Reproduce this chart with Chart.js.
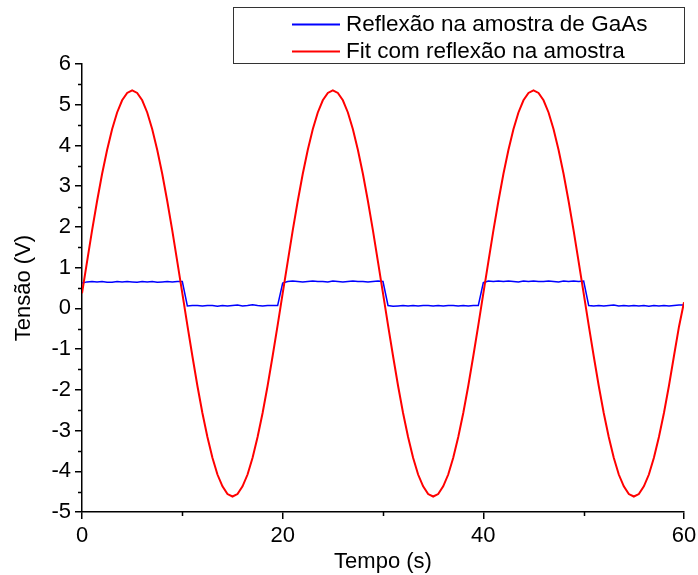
<!DOCTYPE html>
<html><head><meta charset="utf-8">
<script src="https://cdn.jsdelivr.net/npm/chart.js@4"></script>
<style>html,body{margin:0;padding:0;background:#fff}</style>
</head><body>
<canvas id="c" width="698" height="575"></canvas>
<script>
// ---- data ----
const seriesNames = ['Reflexão na amostra de GaAs', 'Fit com reflexão na amostra'];
const xTickLabels = [0, 20, 40, 60];
const yTickLabels = [-5, -4, -3, -2, -1, 0, 1, 2, 3, 4, 5, 6];

// Fit curve, sampled every 0.5 s from 0 to 60 s
const fitStep = 0.5;
const fitVolt = [
  0.37,1.14,1.91,2.63,3.30,3.89,4.40,4.81,5.11,5.29,5.35,5.29,5.11,4.81,4.40,3.89,3.30,2.63,1.91,1.14,
  0.37,-0.41,-1.17,-1.90,-2.57,-3.16,-3.67,-4.08,-4.37,-4.56,-4.62,-4.56,-4.37,-4.08,-3.67,-3.16,-2.57,-1.90,-1.17,-0.41,
  0.37,1.14,1.91,2.63,3.30,3.89,4.40,4.81,5.11,5.29,5.35,5.29,5.11,4.81,4.40,3.89,3.30,2.63,1.91,1.14,
  0.37,-0.41,-1.17,-1.90,-2.57,-3.16,-3.67,-4.08,-4.37,-4.56,-4.62,-4.56,-4.37,-4.08,-3.67,-3.16,-2.57,-1.90,-1.17,-0.41,
  0.37,1.14,1.91,2.63,3.30,3.89,4.40,4.81,5.11,5.29,5.35,5.29,5.11,4.81,4.40,3.89,3.30,2.63,1.91,1.14,
  0.37,-0.41,-1.17,-1.90,-2.57,-3.16,-3.67,-4.08,-4.37,-4.56,-4.62,-4.56,-4.37,-4.08,-3.67,-3.16,-2.57,-1.90,-1.17,-0.45,
  0.15
];

// Measured reflection signal, sampled every 0.5 s from 0 to 60 s
const measStep = 0.5;
const measVolt = [
  0.62,0.65,0.66,0.65,0.66,0.64,0.64,0.66,0.65,0.66,0.65,0.64,0.66,0.65,0.66,0.64,0.65,0.66,0.65,0.66,0.66,
  0.06,0.07,0.07,0.06,0.07,0.07,0.05,0.07,0.06,0.07,0.08,0.06,0.07,0.09,0.07,0.06,0.07,0.07,0.07,
  0.62,0.66,0.67,0.66,0.65,0.66,0.67,0.66,0.66,0.65,0.67,0.66,0.65,0.66,0.67,0.66,0.66,0.65,0.66,0.67,0.66,
  0.07,0.05,0.06,0.07,0.06,0.07,0.06,0.07,0.07,0.06,0.07,0.06,0.07,0.07,0.06,0.07,0.06,0.07,0.07,
  0.63,0.67,0.66,0.67,0.66,0.67,0.66,0.65,0.67,0.66,0.67,0.66,0.66,0.67,0.66,0.65,0.67,0.66,0.67,0.66,0.67,
  0.07,0.06,0.07,0.06,0.07,0.08,0.06,0.07,0.06,0.07,0.06,0.07,0.05,0.07,0.06,0.07,0.06,0.07,0.08,0.08
];
const seriesColors = ['#0000ff', '#ff0000'];

const measPts = measVolt.map((v, i) => ({x: i * measStep, y: v}));
const fitPts = fitVolt.map((v, i) => ({x: i * fitStep, y: v}));

const FONT = 'Liberation Sans, Arial, sans-serif';

const minorTicks = {
  id: 'minorTicks',
  afterDraw(chart) {
    const {ctx, scales: {x, y}, chartArea} = chart;
    ctx.save();
    ctx.strokeStyle = '#000';
    ctx.lineWidth = 1.5;
    ctx.beginPath();
    for (let i = 0; i < yTickLabels.length - 1; i++) {
      const py = Math.round(y.getPixelForValue(yTickLabels[i] + 0.5)) + 0.5;
      ctx.moveTo(chartArea.left, py);
      ctx.lineTo(chartArea.left - 4, py);
    }
    for (let i = 0; i < xTickLabels.length - 1; i++) {
      const px = Math.round(x.getPixelForValue((xTickLabels[i] + xTickLabels[i + 1]) / 2)) + 0.5;
      ctx.moveTo(px, chartArea.bottom);
      ctx.lineTo(px, chartArea.bottom + 4);
    }
    ctx.stroke();
    ctx.restore();
  }
};

const boxLegend = {
  id: 'boxLegend',
  afterDraw(chart) {
    const ctx = chart.ctx;
    ctx.save();
    ctx.strokeStyle = '#333';
    ctx.lineWidth = 1;
    ctx.strokeRect(233.5, 7.5, 451, 56);
    ctx.font = '22.5px ' + FONT;
    ctx.textBaseline = 'middle';
    ctx.fillStyle = '#000';
    const rows = [24, 51];
    seriesNames.forEach((name, i) => {
      ctx.strokeStyle = seriesColors[i];
      ctx.lineWidth = 2;
      ctx.beginPath();
      ctx.moveTo(292, rows[i] + 0.5);
      ctx.lineTo(340, rows[i] + 0.5);
      ctx.stroke();
      ctx.fillText(name, 346, rows[i] + 1);
    });
    ctx.restore();
  }
};

new Chart(document.getElementById('c'), {
  type: 'line',
  data: {
    datasets: [
      {label: seriesNames[0], data: measPts, borderColor: seriesColors[0], borderWidth: 1.5,
       pointRadius: 0, tension: 0, order: 1},
      {label: seriesNames[1], data: fitPts, borderColor: seriesColors[1], borderWidth: 2,
       pointRadius: 0, tension: 0, order: 0}
    ]
  },
  options: {
    responsive: false,
    animation: false,
    events: [],
    layout: {padding: {left: 0, right: 0, top: 64, bottom: 0}},
    plugins: {legend: {display: false}, tooltip: {enabled: false}},
    scales: {
      x: {
        type: 'linear', min: 0, max: 60,
        afterFit: s => { s.height = 63; s.paddingRight = 14; s.paddingLeft = 0; },
        afterBuildTicks: s => { s.ticks = xTickLabels.map(v => ({value: v})); },
        border: {display: true, color: '#000', width: 1.5},
        grid: {display: true, drawOnChartArea: false, drawTicks: true, tickLength: 7, color: '#000', lineWidth: 1.5},
        ticks: {color: '#000', font: {family: FONT, size: 22}, padding: 4, maxRotation: 0},
        title: {display: true, text: 'Tempo (s)', color: '#000', font: {family: FONT, size: 22}, padding: {top: 0, bottom: 0}}
      },
      y: {
        type: 'linear', min: -5, max: 6,
        afterFit: s => { s.width = 82; },
        afterBuildTicks: s => { s.ticks = yTickLabels.map(v => ({value: v})); },
        border: {display: true, color: '#000', width: 1.5},
        grid: {display: true, drawOnChartArea: false, drawTicks: true, tickLength: 7, color: '#000', lineWidth: 1.5},
        ticks: {color: '#000', font: {family: FONT, size: 22}, padding: 4},
        title: {display: true, text: 'Tensão (V)', color: '#000', font: {family: FONT, size: 22}, padding: {top: 11, bottom: 0}}
      }
    }
  },
  plugins: [minorTicks, boxLegend]
});
</script>
</body></html>
